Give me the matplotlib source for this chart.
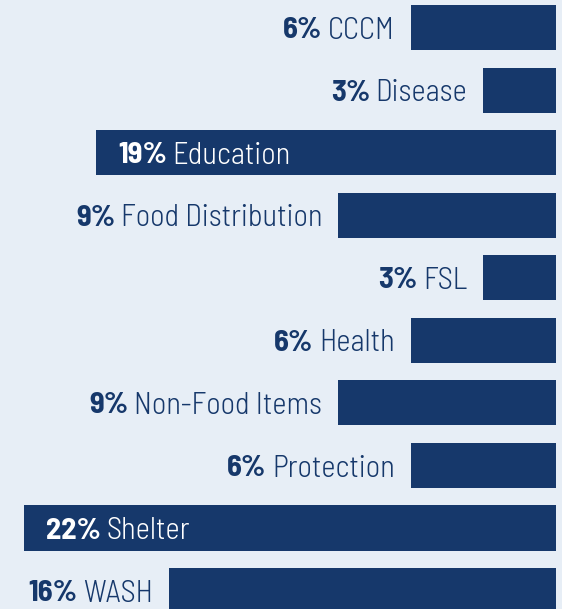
import matplotlib.pyplot as plt

categories = ['CCCM', 'Disease', 'Education', 'Food Distribution', 'FSL',
              'Health', 'Non-Food Items', 'Protection', 'Shelter', 'WASH']
shares = [6, 3, 19, 9, 3, 6, 9, 6, 22, 16]

bg = '#e7eef6'
navy = '#16386b'
px_per_pct = 24.2

fig = plt.figure(figsize=(5.62, 6.09), dpi=100, facecolor=bg)
ax = fig.add_axes([0, 0, 1, 1], facecolor=bg)

y = list(range(len(categories)))
ax.barh(y, [-v for v in shares], left=0, height=0.72, color=navy)

ax.set_xlim(-556 / px_per_pct, 6 / px_per_pct)
ax.set_ylim((609 - 27.5) / 62.56, -27.5 / 62.56)
ax.axis('off')

fs = 22
fam = 'Barlow Semi Condensed'
for i, (cat, v) in enumerate(zip(categories, shares)):
    if v >= 19:
        # long bars carry the label inside, in white
        x0 = -v + 22 / px_per_pct
        pct = ax.text(x0, i + 0.05, f'{v}%', ha='left', va='center', fontsize=fs,
                      fontweight=700, color='white', family=fam)
        ax.annotate(cat, xy=(1, 0.5), xycoords=pct, xytext=(4, 0),
                    textcoords='offset points', ha='left', va='center',
                    fontsize=fs, fontweight=300, color='white', family=fam)
    else:
        x1 = -v - 16 / px_per_pct
        name = ax.text(x1, i + 0.05, cat, ha='right', va='center', fontsize=fs,
                       fontweight=300, color=navy, family=fam)
        ax.annotate(f'{v}%', xy=(0, 0.5), xycoords=name, xytext=(-4, 0),
                    textcoords='offset points', ha='right', va='center',
                    fontsize=fs, fontweight=700, color=navy, family=fam)

fig.savefig('out.png', dpi=100, facecolor=bg)
